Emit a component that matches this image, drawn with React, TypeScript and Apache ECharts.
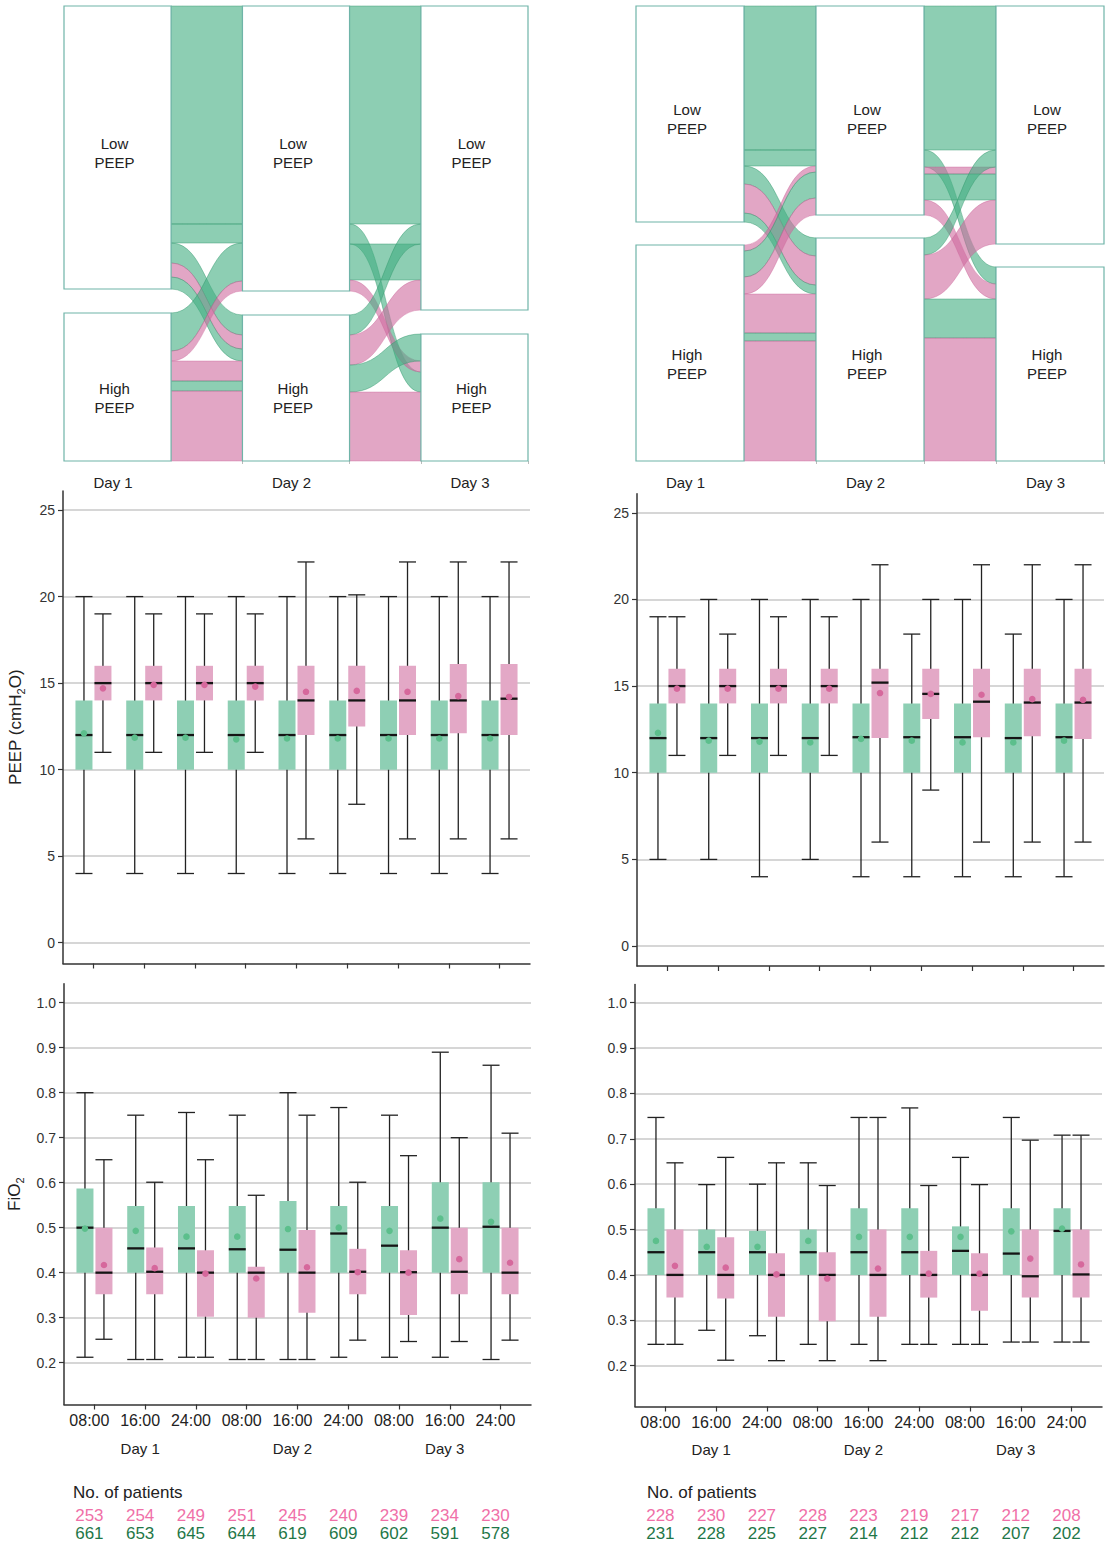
import React, { useEffect, useRef } from 'react';
import * as echarts from 'echarts';

const FONT = "'Liberation Sans', Arial, Helvetica, sans-serif";

// ---------- labels ----------
const timeLabels = ['08:00', '16:00', '24:00', '08:00', '16:00', '24:00', '08:00', '16:00', '24:00'];
const dayLabels = ['Day 1', 'Day 2', 'Day 3'];
const dayLabelSlots = [1, 4, 7];
const strataLabels = ['Low\nPEEP', 'High\nPEEP'];
const peepTicks = [0, 5, 10, 15, 20, 25];
const fio2Ticks = [0.2, 0.3, 0.4, 0.5, 0.6, 0.7, 0.8, 0.9, 1.0];

// ---------- alluvial flows: [group(0 green,1 pink), from(0 Low,1 High), to, patients, rank at target] ----------
const leftGap1 = [
  [0, 0, 0, 218, 0], [0, 0, 0, 19, 1], [0, 0, 1, 20, 0], [1, 0, 1, 14, 1], [0, 0, 1, 12, 2],
  [0, 1, 0, 38, 2], [1, 1, 0, 10, 3], [1, 1, 1, 20, 3], [0, 1, 1, 10, 4], [1, 1, 1, 70, 5],
];
const leftGap2 = [
  [0, 0, 0, 218, 0], [0, 0, 1, 20, 2], [0, 0, 0, 36, 2], [1, 0, 1, 11, 1],
  [0, 1, 0, 20, 1], [1, 1, 0, 30, 3], [0, 1, 1, 27, 0], [1, 1, 1, 69, 3],
];
const rightGap1 = [
  [0, 0, 0, 144, 0], [0, 0, 0, 16, 1], [0, 0, 1, 18, 0], [1, 0, 1, 29, 1], [0, 0, 1, 9, 2],
  [1, 1, 0, 6, 2], [0, 1, 0, 26, 3], [1, 1, 0, 17, 4], [1, 1, 1, 39, 3], [0, 1, 1, 8, 4], [1, 1, 1, 120, 5],
];
const rightGap2 = [
  [0, 0, 0, 144, 0], [0, 0, 1, 17, 0], [1, 0, 0, 7, 2], [0, 0, 0, 26, 3], [1, 0, 1, 15, 1],
  [0, 1, 0, 17, 1], [1, 1, 0, 44, 4], [0, 1, 1, 39, 2], [1, 1, 1, 123, 3],
];
const leftStrataGap = 24;
const rightStrataGap = 23;

// ---------- box plots: [min, q1, median, q3, max, mean] ----------
const leftPeepLow = [
  [4, 10, 12, 14, 20, 12.1], [4, 10, 12, 14, 20, 11.85], [4, 10, 12, 14, 20, 11.85],
  [4, 10, 12, 14, 20, 11.75], [4, 10, 12, 14, 20, 11.8], [4, 10, 12, 14, 20, 11.8],
  [4, 10, 12, 14, 20, 11.8], [4, 10, 12, 14, 20, 11.8], [4, 10, 12, 14, 20, 11.8],
];
const leftPeepHigh = [
  [11, 14, 15, 16, 19, 14.7], [11, 14, 15, 16, 19, 14.9], [11, 14, 15, 16, 19, 14.9],
  [11, 14, 15, 16, 19, 14.8], [6, 12, 14, 16, 22, 14.5], [8, 12.5, 14, 16, 20.1, 14.55],
  [6, 12, 14, 16, 22, 14.5], [6, 12.1, 14, 16.1, 22, 14.25], [6, 12, 14.1, 16.1, 22, 14.2],
];
const rightPeepLow = [
  [5, 10, 12, 14, 19, 12.3], [5, 10, 12, 14, 20, 11.85], [4, 10, 12, 14, 20, 11.8],
  [5, 10, 12, 14, 20, 11.75], [4, 10, 12.05, 14, 20, 11.95], [4, 10, 12.05, 14, 18, 11.85],
  [4, 10, 12.05, 14, 20, 11.75], [4, 10, 12, 14, 18, 11.75], [4, 10, 12.05, 14, 20, 11.85],
];
const rightPeepHigh = [
  [11, 14, 15, 16, 19, 14.85], [11, 14, 15, 16, 18, 14.85], [11, 14, 15, 16, 19, 14.85],
  [11, 14, 15, 16, 19, 14.85], [6, 12, 15.2, 16, 22, 14.6], [9, 13.1, 14.55, 16, 20, 14.55],
  [6, 12.05, 14.1, 16, 22, 14.5], [6, 12.1, 14.05, 16, 22, 14.25], [6, 11.95, 14.05, 16, 22, 14.2],
];
const leftFio2Low = [
  [0.212, 0.4, 0.5, 0.587, 0.8, 0.498], [0.207, 0.4, 0.454, 0.548, 0.75, 0.493],
  [0.212, 0.4, 0.454, 0.548, 0.756, 0.48], [0.207, 0.4, 0.452, 0.548, 0.75, 0.48],
  [0.207, 0.4, 0.451, 0.559, 0.8, 0.497], [0.212, 0.4, 0.487, 0.548, 0.767, 0.5],
  [0.212, 0.4, 0.46, 0.548, 0.75, 0.493], [0.212, 0.4, 0.5, 0.601, 0.89, 0.52],
  [0.207, 0.4, 0.502, 0.601, 0.861, 0.513],
];
const leftFio2High = [
  [0.252, 0.352, 0.4, 0.5, 0.651, 0.417], [0.207, 0.352, 0.402, 0.456, 0.601, 0.41],
  [0.212, 0.302, 0.4, 0.45, 0.651, 0.398], [0.207, 0.3, 0.4, 0.413, 0.572, 0.387],
  [0.207, 0.311, 0.4, 0.495, 0.75, 0.412], [0.25, 0.352, 0.402, 0.453, 0.601, 0.401],
  [0.247, 0.306, 0.401, 0.45, 0.66, 0.4], [0.247, 0.352, 0.402, 0.5, 0.7, 0.43],
  [0.25, 0.352, 0.4, 0.5, 0.71, 0.422],
];
const rightFio2Low = [
  [0.247, 0.4, 0.45, 0.547, 0.747, 0.475], [0.278, 0.4, 0.45, 0.5, 0.599, 0.462],
  [0.266, 0.4, 0.45, 0.497, 0.6, 0.462], [0.247, 0.4, 0.45, 0.5, 0.647, 0.475],
  [0.247, 0.4, 0.45, 0.547, 0.747, 0.484], [0.247, 0.4, 0.45, 0.547, 0.768, 0.484],
  [0.247, 0.4, 0.453, 0.507, 0.659, 0.484], [0.252, 0.4, 0.447, 0.547, 0.747, 0.496],
  [0.252, 0.4, 0.497, 0.547, 0.708, 0.502],
];
const rightFio2High = [
  [0.247, 0.35, 0.4, 0.5, 0.647, 0.42], [0.212, 0.348, 0.4, 0.483, 0.659, 0.416],
  [0.211, 0.308, 0.4, 0.448, 0.647, 0.401], [0.211, 0.298, 0.4, 0.45, 0.597, 0.392],
  [0.211, 0.308, 0.4, 0.5, 0.747, 0.414], [0.247, 0.35, 0.4, 0.453, 0.597, 0.403],
  [0.247, 0.321, 0.4, 0.448, 0.599, 0.403], [0.252, 0.35, 0.397, 0.5, 0.697, 0.436],
  [0.252, 0.35, 0.401, 0.5, 0.708, 0.423],
];

// ---------- patient counts ----------
const leftCountsHigh = [253, 254, 249, 251, 245, 240, 239, 234, 230];
const leftCountsLow = [661, 653, 645, 644, 619, 609, 602, 591, 578];
const rightCountsHigh = [228, 230, 227, 228, 223, 219, 217, 212, 208];
const rightCountsLow = [231, 228, 225, 227, 214, 212, 212, 207, 202];

// ---------- styles ----------
const NODE_HALF = 0.3;
const BOX_OFFSET = 0.187;
const BOX_WIDTH = 0.335;
const LABEL_SHIFT = 0.1;
const STRATUM_LABEL_DY = [5, 11];
const BOX_FILL = ['#8ECFB4', '#E3A8C6'];
const MEAN_FILL = ['#5CBF8C', '#D6689C'];
const FLOW_FILL = ['rgba(65,173,128,0.6)', 'rgba(207,107,158,0.6)'];
const FLOW_STROKE = ['rgba(45,150,105,0.55)', 'rgba(200,90,145,0.45)'];
const PINK_TEXT = '#F070A8';
const GREEN_TEXT = '#1F7748';
const AXIS_COLOR = '#333';
const GRID_COLOR = '#C9C9C9';

function buildAlluvial(gap1: number[][], gap2: number[][], gapUnits: number) {
  const size = [[0, 0], [0, 0], [0, 0]];
  gap1.forEach((f) => { size[0][f[1]] += f[3]; size[1][f[2]] += f[3]; });
  gap2.forEach((f) => { size[2][f[2]] += f[3]; });
  const tops = size.map((s) => [0, s[0] + gapUnits]);
  const flows: number[][] = [];
  [gap1, gap2].forEach((list, gi) => {
    const lc = [tops[gi][0], tops[gi][1]];
    const lefts = list.map((f) => { const y = lc[f[1]]; lc[f[1]] += f[3]; return y; });
    const order = list.map((_, i) => i).sort((a, b) => list[a][2] - list[b][2] || list[a][4] - list[b][4]);
    const rc = [tops[gi + 1][0], tops[gi + 1][1]];
    const rights: number[] = new Array(list.length);
    order.forEach((i) => { const f = list[i]; rights[i] = rc[f[2]]; rc[f[2]] += f[3]; });
    list.forEach((f, i) => flows.push([gi, lefts[i], lefts[i] + f[3], rights[i], rights[i] + f[3], f[0]]));
  });
  // label anchor: the stratum centre on Day 1 (labels share one row per stratum)
  const labelMid = [size[0][0] / 2, tops[0][1] + size[0][1] / 2];
  const nodes: number[][] = [];
  size.forEach((s, d) => {
    nodes.push([d, 0, s[0], 0, labelMid[0]]);
    nodes.push([d, tops[d][1], tops[d][1] + s[1], 1, labelMid[1]]);
  });
  const total = size[0][0] + gapUnits + size[0][1];
  return { flows, nodes, total };
}

function flowRender(params: any, api: any) {
  const gap = api.value(0);
  const xL = api.coord([gap + NODE_HALF, 0])[0];
  const xR = api.coord([gap + 1 - NODE_HALF, 0])[0];
  const tl = api.coord([0, api.value(1)])[1];
  const bl = api.coord([0, api.value(2)])[1];
  const tr = api.coord([0, api.value(3)])[1];
  const br = api.coord([0, api.value(4)])[1];
  const g = api.value(5);
  const xm = (xL + xR) / 2;
  const d = `M${xL},${tl}C${xm},${tl} ${xm},${tr} ${xR},${tr}L${xR},${br}C${xm},${br} ${xm},${bl} ${xL},${bl}Z`;
  return {
    type: 'path',
    shape: { pathData: d },
    style: { fill: FLOW_FILL[g], stroke: FLOW_STROKE[g], lineWidth: 0.8 },
  };
}

function nodeRender(params: any, api: any) {
  const day = api.value(0);
  const s = api.value(3);
  const p0 = api.coord([day - NODE_HALF, api.value(1)]);
  const p1 = api.coord([day + NODE_HALF, api.value(2)]);
  const ly = api.coord([day, api.value(4)])[1];
  return {
    type: 'group',
    children: [
      {
        type: 'rect',
        shape: { x: p0[0], y: p0[1], width: p1[0] - p0[0], height: p1[1] - p0[1] },
        style: { fill: '#ffffff', stroke: '#6FB4A8', lineWidth: 1.2 },
      },
      {
        type: 'text',
        style: {
          text: strataLabels[s],
          x: (p0[0] + p1[0]) / 2 - 3,
          y: ly + STRATUM_LABEL_DY[s],
          align: 'center',
          verticalAlign: 'middle',
          fontSize: 15,
          lineHeight: 19,
          fontFamily: FONT,
          fill: '#222',
        },
      },
    ],
  };
}

function boxRender(params: any, api: any) {
  const ci = api.value(0);
  const g = api.value(1);
  const cx = ci + (g === 0 ? -BOX_OFFSET : BOX_OFFSET);
  const hw = api.size([BOX_WIDTH, 0])[0] / 2;
  const xc = api.coord([cx, 0])[0];
  const y = (k: number) => api.coord([cx, api.value(k)])[1];
  const yMin = y(2), yQ1 = y(3), yMed = y(4), yQ3 = y(5), yMax = y(6), yMean = y(7);
  const line = { stroke: '#222', lineWidth: 1.3 };
  return {
    type: 'group',
    children: [
      { type: 'line', shape: { x1: xc, y1: yMin, x2: xc, y2: yMax }, style: line },
      { type: 'line', shape: { x1: xc - hw, y1: yMin, x2: xc + hw, y2: yMin }, style: line },
      { type: 'line', shape: { x1: xc - hw, y1: yMax, x2: xc + hw, y2: yMax }, style: line },
      { type: 'rect', shape: { x: xc - hw, y: yQ3, width: hw * 2, height: yQ1 - yQ3 }, style: { fill: BOX_FILL[g] } },
      { type: 'line', shape: { x1: xc - hw, y1: yMed, x2: xc + hw, y2: yMed }, style: { stroke: '#151515', lineWidth: 2.3 } },
      { type: 'circle', shape: { cx: xc, cy: yMean, r: 3.3 }, style: { fill: MEAN_FILL[g] } },
    ],
  };
}

function boxData(low: number[][], high: number[][]) {
  const out: number[][] = [];
  low.forEach((r, i) => out.push([i, 0, ...r]));
  high.forEach((r, i) => out.push([i, 1, ...r]));
  return out;
}

const slotIdx = timeLabels.map((_, i) => i);

function boxX(gridIndex: number, showLabels: boolean) {
  return {
    type: 'value', gridIndex, min: -0.6, max: 8.6,
    splitLine: { show: false },
    axisLine: { show: true, onZero: false, lineStyle: { color: AXIS_COLOR, width: 1.5 } },
    axisTick: { show: true, customValues: slotIdx, length: 5, lineStyle: { color: AXIS_COLOR, width: 1.2 } },
    axisLabel: showLabels
      ? {
          show: true, customValues: slotIdx.map((i) => i - LABEL_SHIFT),
          formatter: (v: number) => timeLabels[Math.round(v + LABEL_SHIFT)],
          fontSize: 16, color: '#222', fontFamily: FONT, margin: 8,
        }
      : { show: false },
  };
}

function textX(gridIndex: number, offset: number, slots: number[], texts: (string | number)[], color: string, fontSize: number) {
  return {
    type: 'value', gridIndex, min: -0.6, max: 8.6, position: 'bottom', offset,
    axisLine: { show: false, onZero: false }, axisTick: { show: false }, splitLine: { show: false },
    axisLabel: {
      show: true, customValues: slots.map((i) => i - LABEL_SHIFT),
      formatter: (v: number) => String(texts[slots.indexOf(Math.round(v + LABEL_SHIFT))]),
      fontSize, color, fontFamily: FONT, margin: 8,
    },
  };
}

function sankeyX(gridIndex: number) {
  return {
    type: 'value', gridIndex, min: -NODE_HALF, max: 2 + NODE_HALF,
    splitLine: { show: false },
    axisLine: { show: false, onZero: false },
    axisTick: {
      show: true, customValues: [1 - NODE_HALF, 1 + NODE_HALF, 2 - NODE_HALF, 2 + NODE_HALF],
      length: 3, lineStyle: { color: '#bbbbbb', width: 1 },
    },
    axisLabel: {
      show: true, customValues: [0, 1, 2].map((d) => d - 0.025),
      formatter: (v: number) => dayLabels[Math.round(v + 0.025)],
      fontSize: 15, color: '#222', fontFamily: FONT, margin: 14,
    },
  };
}

function valueY(gridIndex: number, min: number, max: number, ticks: number[], fmt: (v: number) => string, name?: string, nameGap?: number) {
  return {
    type: 'value', gridIndex, min, max,
    axisLine: { show: true, onZero: false, lineStyle: { color: AXIS_COLOR, width: 1.5 } },
    axisTick: { show: true, customValues: ticks, length: 5, lineStyle: { color: AXIS_COLOR, width: 1.2 } },
    axisLabel: { show: true, customValues: ticks, formatter: fmt, fontSize: 14, color: '#333', fontFamily: FONT, margin: 8 },
    splitLine: { show: true, lineStyle: { color: GRID_COLOR, width: 1.5 } },
    name: name || '',
    nameLocation: 'middle',
    nameGap: nameGap || 30,
    nameRotate: 90,
    nameTextStyle: {
      fontSize: 17, color: '#222', fontFamily: FONT, lineHeight: 22,
      rich: { sub: { fontSize: 11, lineHeight: 11, verticalAlign: 'bottom', fontFamily: FONT, color: '#222' } },
    },
  };
}

function buildOption() {
  const L = buildAlluvial(leftGap1, leftGap2, leftStrataGap);
  const R = buildAlluvial(rightGap1, rightGap2, rightStrataGap);
  const gridBase = { outerBoundsMode: 'none', containLabel: false };
  return {
    animation: false,
    backgroundColor: '#ffffff',
    textStyle: { fontFamily: FONT },
    grid: [
      { ...gridBase, left: 64, top: 6, width: 464, height: 455 },
      { ...gridBase, left: 636, top: 6, width: 468, height: 455 },
      { ...gridBase, left: 63, top: 491, width: 467, height: 472.5 },
      { ...gridBase, left: 637, top: 493.7, width: 467, height: 472.3 },
      { ...gridBase, left: 64, top: 983.8, width: 467, height: 420.7 },
      { ...gridBase, left: 635, top: 984.5, width: 467, height: 422 },
    ],
    xAxis: [
      sankeyX(0),
      sankeyX(1),
      boxX(2, false),
      boxX(3, false),
      boxX(4, true),
      boxX(5, true),
      textX(4, 28, dayLabelSlots, dayLabels, '#222', 15),
      textX(5, 27, dayLabelSlots, dayLabels, '#222', 15),
      textX(4, 94, slotIdx, leftCountsHigh, PINK_TEXT, 17),
      textX(4, 112, slotIdx, leftCountsLow, GREEN_TEXT, 17),
      textX(5, 92, slotIdx, rightCountsHigh, PINK_TEXT, 17),
      textX(5, 110, slotIdx, rightCountsLow, GREEN_TEXT, 17),
    ],
    yAxis: [
      { type: 'value', gridIndex: 0, min: 0, max: L.total, inverse: true, show: false },
      { type: 'value', gridIndex: 1, min: 0, max: R.total, inverse: true, show: false },
      valueY(2, -1.2, 26.1, peepTicks, (v) => String(v), 'PEEP (cmH{sub|2}O)', 37),
      valueY(3, -1.15, 26.1, peepTicks, (v) => String(v)),
      valueY(4, 0.107, 1.042, fio2Ticks, (v) => v.toFixed(1), 'FiO{sub|2}', 39),
      valueY(5, 0.11, 1.04, fio2Ticks, (v) => v.toFixed(1)),
    ],
    graphic: [
      { type: 'text', left: 73, top: 1484, style: { text: 'No. of patients', fontSize: 17, fill: '#222', fontFamily: FONT } },
      { type: 'text', left: 647, top: 1484, style: { text: 'No. of patients', fontSize: 17, fill: '#222', fontFamily: FONT } },
    ],
    series: [
      { type: 'custom', xAxisIndex: 0, yAxisIndex: 0, data: L.flows, encode: { x: 0, y: 1 }, renderItem: flowRender, clip: false, silent: true },
      { type: 'custom', xAxisIndex: 0, yAxisIndex: 0, data: L.nodes, encode: { x: 0, y: 1 }, renderItem: nodeRender, clip: false, silent: true },
      { type: 'custom', xAxisIndex: 1, yAxisIndex: 1, data: R.flows, encode: { x: 0, y: 1 }, renderItem: flowRender, clip: false, silent: true },
      { type: 'custom', xAxisIndex: 1, yAxisIndex: 1, data: R.nodes, encode: { x: 0, y: 1 }, renderItem: nodeRender, clip: false, silent: true },
      { type: 'custom', xAxisIndex: 2, yAxisIndex: 2, data: boxData(leftPeepLow, leftPeepHigh), encode: { x: 0, y: 2 }, renderItem: boxRender, clip: false, silent: true },
      { type: 'custom', xAxisIndex: 3, yAxisIndex: 3, data: boxData(rightPeepLow, rightPeepHigh), encode: { x: 0, y: 2 }, renderItem: boxRender, clip: false, silent: true },
      { type: 'custom', xAxisIndex: 4, yAxisIndex: 4, data: boxData(leftFio2Low, leftFio2High), encode: { x: 0, y: 2 }, renderItem: boxRender, clip: false, silent: true },
      { type: 'custom', xAxisIndex: 5, yAxisIndex: 5, data: boxData(rightFio2Low, rightFio2High), encode: { x: 0, y: 2 }, renderItem: boxRender, clip: false, silent: true },
    ],
  };
}

export default function App() {
  const ref = useRef<HTMLDivElement>(null);
  useEffect(() => {
    const chart = echarts.init(ref.current as HTMLDivElement, null, { renderer: 'svg' });
    chart.setOption(buildOption() as any);
    return () => chart.dispose();
  }, []);
  return (
    <div
      ref={ref}
      style={{ position: 'absolute', left: 0, top: 0, width: 1105, height: 1544, background: '#ffffff' }}
    />
  );
}
